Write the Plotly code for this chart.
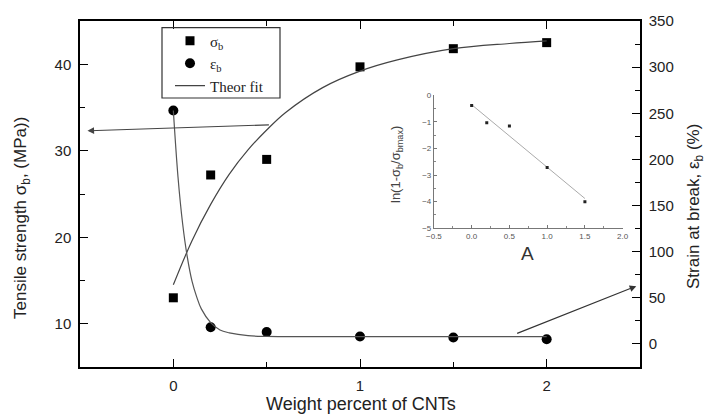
import plotly.graph_objects as go

# ---- data ----
cnt_wt = [0, 0.2, 0.5, 1.0, 1.5, 2.0]
sigma_b = [13.0, 27.2, 29.0, 39.7, 41.8, 42.5]          # MPa (left axis)
eps_b = [253, 18, 13, 8, 7, 5]                           # % (right axis)

sigma_fit_x = [0, 0.1, 0.2, 0.3, 0.4, 0.5, 0.6, 0.8, 1.0, 1.2, 1.5, 1.8, 2.0]
sigma_fit_y = [14.5, 19.6, 23.8, 27.3, 30.1, 32.4, 34.4, 37.3, 39.2, 40.5, 41.8, 42.4, 42.7]

eps_fit_x = [0, 0.025, 0.05, 0.075, 0.1, 0.125, 0.15, 0.2, 0.25, 0.3, 0.4, 0.5, 1.0, 1.5, 2.0]
eps_fit_y = [253, 181, 130, 94, 68, 51, 38, 23, 15, 12, 9, 8.2, 8, 8, 8]

inset_A = [0.0, 0.2, 0.5, 1.0, 1.5]
inset_ln = [-0.38, -1.03, -1.15, -2.71, -4.0]
inset_fit_x = [0.0, 1.5]
inset_fit_y = [-0.35, -3.88]

main_font = "Liberation Sans, Arial, sans-serif"
serif_font = "Liberation Serif, Times New Roman, serif"

fig = go.Figure()

fig.add_trace(go.Scatter(x=cnt_wt, y=sigma_b, mode="markers", name="σ<sub>b</sub>",
                         marker=dict(symbol="square", size=9, color="black"),
                         xaxis="x", yaxis="y"))
fig.add_trace(go.Scatter(x=cnt_wt, y=eps_b, mode="markers", name="ε<sub>b</sub>",
                         marker=dict(symbol="circle", size=10, color="black"),
                         xaxis="x", yaxis="y2"))
fig.add_trace(go.Scatter(x=sigma_fit_x, y=sigma_fit_y, mode="lines", name="Theor fit",
                         line=dict(color="#444", width=1.2, shape="spline"),
                         xaxis="x", yaxis="y"))
fig.add_trace(go.Scatter(x=eps_fit_x, y=eps_fit_y, mode="lines", showlegend=False,
                         line=dict(color="#555", width=1.2, shape="spline"),
                         xaxis="x", yaxis="y2"))
# inset
fig.add_trace(go.Scatter(x=inset_fit_x, y=inset_fit_y, mode="lines", showlegend=False,
                         line=dict(color="#aaa", width=1),
                         xaxis="x3", yaxis="y3"))
fig.add_trace(go.Scatter(x=inset_A, y=inset_ln, mode="markers", showlegend=False,
                         marker=dict(symbol="square", size=3, color="#222"),
                         xaxis="x3", yaxis="y3"))

tickfont = dict(family=main_font, size=15, color="#222")
inset_tickfont = dict(family=main_font, size=8, color="#555")

fig.update_layout(
    width=708, height=418,
    margin=dict(l=80, r=68, t=21, b=51),
    paper_bgcolor="white", plot_bgcolor="white",
    showlegend=True,
    legend=dict(x=(170 - 80) / 560, y=0.99, xanchor="left", yanchor="top",
                bgcolor="rgba(0,0,0,0)", borderwidth=0,
                font=dict(family=serif_font, size=15, color="#222"),
                tracegroupgap=0),
    xaxis=dict(domain=[0, 1], range=[-0.5, 2.5], tickvals=[0, 1, 2],
               ticks="inside", ticklen=8, tickwidth=1.2, tickcolor="black",
               minor=dict(tickvals=[0.5, 1.5], ticks="inside", ticklen=5, tickcolor="black"),
               showline=True, linecolor="black", linewidth=1.5, mirror="ticks",
               showgrid=False, zeroline=False, tickfont=tickfont, ticklabelstandoff=4),
    yaxis=dict(domain=[0, 1], range=[5, 45], tickvals=[10, 20, 30, 40],
               ticks="inside", ticklen=8, tickwidth=1.2, tickcolor="black",
               minor=dict(tickvals=[15, 25, 35], ticks="inside", ticklen=5, tickcolor="black"),
               showline=True, linecolor="black", linewidth=1.5,
               showgrid=False, zeroline=False, tickfont=tickfont, ticklabelstandoff=4),
    yaxis2=dict(range=[-25, 350], overlaying="y", side="right",
                tickvals=[0, 50, 100, 150, 200, 250, 300, 350],
                ticks="inside", ticklen=8, tickwidth=1.2, tickcolor="black",
                minor=dict(tickvals=[25, 75, 125, 175, 225, 275, 325], ticks="inside",
                           ticklen=5, tickcolor="black"),
                showline=True, linecolor="black", linewidth=1.5,
                showgrid=False, zeroline=False, tickfont=tickfont, ticklabelstandoff=4),
    xaxis3=dict(domain=[0.632, 0.969], anchor="y3", range=[-0.5, 2.0], dtick=0.5,
                tickformat=".1f", ticks="inside", ticklen=3, tickcolor="#777",
                minor=dict(dtick=0.25, ticks="inside", ticklen=2, tickcolor="#888"),
                showline=True, linecolor="#777", linewidth=1, showgrid=False,
                zeroline=False, tickfont=inset_tickfont, ticklabelstandoff=0),
    yaxis3=dict(domain=[0.401, 0.785], anchor="x3", range=[-5, 0], dtick=1,
                ticks="inside", ticklen=3, tickcolor="#777",
                minor=dict(dtick=0.5, ticks="inside", ticklen=2, tickcolor="#888"),
                showline=True, linecolor="#777", linewidth=1, showgrid=False,
                zeroline=False, tickfont=inset_tickfont, ticklabelstandoff=0),
    shapes=[dict(type="rect", xref="paper", yref="paper",
                 x0=(162 - 80) / 560, x1=(280 - 80) / 560,
                 y0=(367 - 98) / 346, y1=(367 - 27.7) / 346,
                 line=dict(color="#333", width=1.2), fillcolor="rgba(0,0,0,0)")],
    annotations=[
        dict(text="Weight percent of CNTs", xref="paper", yref="paper",
             x=(361 - 80) / 560, y=(367 - 404) / 346, showarrow=False,
             xanchor="center", yanchor="middle",
             font=dict(family=main_font, size=18, color="#222")),
        dict(text="Tensile strength σ<sub>b</sub>, (MPa))", xref="paper", yref="paper",
             x=(22 - 80) / 560, y=(367 - 218) / 346, showarrow=False, textangle=-90,
             xanchor="center", yanchor="middle",
             font=dict(family=main_font, size=17, color="#222")),
        dict(text="Strain at break, ε<sub>b</sub> (%)", xref="paper", yref="paper",
             x=(695 - 80) / 560, y=(367 - 207) / 346, showarrow=False, textangle=-90,
             xanchor="center", yanchor="middle",
             font=dict(family=main_font, size=17, color="#222")),
        dict(text="ln(1-σ<sub>b</sub>/σ<sub>bmax</sub>)", xref="paper", yref="paper",
             x=(396 - 80) / 560, y=(367 - 165) / 346, showarrow=False, textangle=-90,
             xanchor="center", yanchor="middle",
             font=dict(family=main_font, size=13, color="#444")),
        dict(text="A", xref="paper", yref="paper",
             x=(527 - 80) / 560, y=(367 - 253) / 346, showarrow=False,
             xanchor="center", yanchor="middle",
             font=dict(family=main_font, size=19, color="#333")),
        # arrows
        dict(x=-0.46, y=32.3, xref="x", yref="y", ax=0.52, ay=33.0, axref="x", ayref="y",
             text="", showarrow=True, arrowhead=2, arrowsize=1.2, arrowwidth=1.1,
             arrowcolor="#444"),
        dict(x=2.48, y=62.6, xref="x", yref="y2", ax=1.834, ay=10.8, axref="x", ayref="y2",
             text="", showarrow=True, arrowhead=2, arrowsize=1.2, arrowwidth=1.1,
             arrowcolor="#333"),
    ],
)

fig.write_html("out.html")
